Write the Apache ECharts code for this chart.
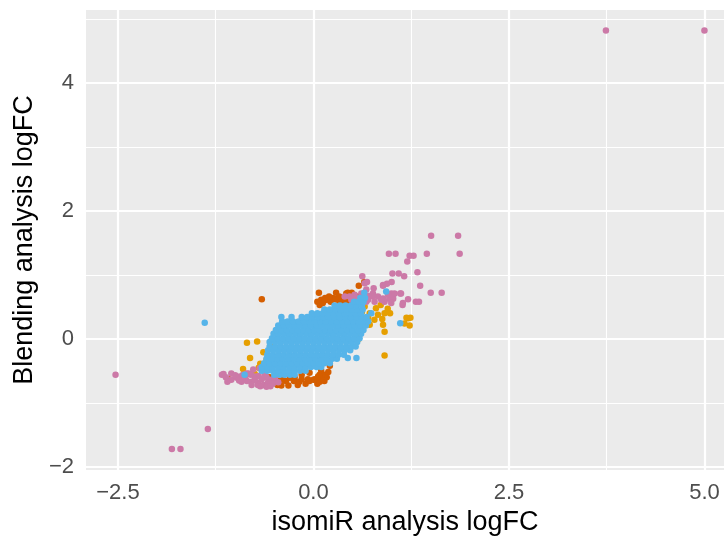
<!DOCTYPE html>
<html>
<head>
<meta charset="utf-8">
<script src="https://cdn.jsdelivr.net/npm/echarts@6/dist/echarts.min.js"></script>
<style>html,body{margin:0;padding:0;background:#fff}#c{width:724px;height:536px}</style>
</head>
<body>
<div id="c"></div>
<script>
const xTicks = [-2.5, 0, 2.5, 5];
const xMinor = [-1.25, 1.25, 3.75];
const yTicks = [-2, 0, 2, 4];
const yMinor = [-1, 1, 3, 5];

const redPoints = [
  [0.07,0.72],[0.29,0.72],[0.44,0.72],[0.49,0.72],[0.42,0.71],[0.58,0.83],[0.65,0.89],
  [0.10,0.61],[0.15,0.64],[0.19,0.61],[0.25,0.64],[0.31,0.61],[0.37,0.63],[0.44,0.61],
  [0.50,0.64],[0.55,0.66],[0.22,0.58],[0.34,0.58],[0.08,0.53],[0.12,0.56],
  [0.14,0.60],[0.28,0.62],[0.40,0.60],[0.47,0.58],[0.53,0.60],[0.20,0.66],[0.33,0.66],[0.05,0.58],
  [-0.66,0.62],[-1.08,-0.63],[0.21,-0.42],
  [-0.41,-0.73],[-0.32,-0.73],[-0.46,-0.72],[-0.20,-0.72],[-0.10,-0.70],[0.05,-0.70],
  [-0.55,-0.67],[-0.45,-0.66],[-0.35,-0.66],[-0.25,-0.66],[-0.18,-0.67],[-0.05,-0.66],
  [0.00,-0.64],[0.08,-0.67],[0.14,-0.66],[0.12,-0.62],[-0.56,-0.60],
  [-0.51,-0.64],[-0.39,-0.64],[-0.30,-0.61],[-0.24,-0.61],[-0.15,-0.63],[-0.07,-0.63],
  [0.02,-0.63],[0.17,-0.60],
  [-0.15,-0.56],[-0.05,-0.53],[0.06,-0.59],[0.145,-0.56],[0.08,-0.56],[-0.28,-0.55],
  [0.10,-0.50],[0.19,-0.52]
];

const orangePoints = [
  [-0.85,-0.06],[-0.72,-0.04],[-0.81,-0.30],[-0.90,-0.47],[-0.64,-0.21],[-0.68,-0.39],
  [-0.60,-0.33],[-0.70,-0.45],[-0.54,-0.12],[-0.62,-0.50],[-0.75,-0.55],
  [0.655,0.505],[0.72,0.40],[0.825,0.375],[0.91,0.40],[1.21,0.32],[1.165,0.24],
  [0.89,0.22],[0.72,0.22],[0.91,0.11],[0.91,-0.26],[0.61,0.19],[0.57,0.09],
  [1.19,0.33],[1.24,0.33],[1.23,0.21],[0.80,0.48],[0.86,0.53],[0.95,0.47],
  [0.78,0.30],[0.88,0.31],[0.70,0.33],[0.62,0.42],[0.98,0.40],[0.58,0.00]
];

const pinkPoints = [
  [5.0,4.82],[3.74,4.82],[-2.53,-0.56],[-1.81,-1.72],[-1.70,-1.72],[-1.35,-1.41],
  [1.505,1.61],[1.85,1.61],[1.87,1.33],[1.45,1.33],[0.965,1.33],[1.05,1.33],
  [1.23,1.30],[1.28,1.30],[1.20,1.21],[1.33,1.04],[1.01,1.02],[1.09,1.02],
  [1.16,0.98],[1.00,0.89],[1.365,0.83],[1.50,0.72],[1.64,0.72],[0.625,0.98],
  [0.685,0.89],[0.89,0.83],[0.94,0.86],[0.77,0.79],[0.655,0.87],[0.89,0.84],
  [1.11,0.71],[1.21,0.62],[1.31,0.58],[1.35,0.58],[1.14,0.53],[0.995,0.71],
  [1.02,0.625],[0.97,0.625],
  [0.463,0.66],[0.527,0.69],[0.612,0.71],[0.698,0.675],[0.761,0.71],[0.825,0.66],
  [0.889,0.63],[0.953,0.69],[1.017,0.66],[0.485,0.61],[0.59,0.59],[0.676,0.58],
  [0.782,0.58],[0.91,0.58],[0.995,0.56],[0.676,0.77],[0.761,0.66],[1.037,0.71],
  [1.12,0.71],[0.698,0.61],[0.867,0.61],[1.144,0.56],[0.40,0.66],[0.55,0.64],
  [-1.15,-0.55],[-1.05,-0.54],[-0.94,-0.59],[-0.855,-0.54],[-0.75,-0.59],[-0.62,-0.56],
  [-0.79,-0.67],[-0.705,-0.69],[-0.64,-0.72],[-0.557,-0.64],[-0.49,-0.64],[-0.92,-0.67],
  [-1.05,-0.64],[-1.17,-0.56],[-0.98,-0.61],[-0.79,-0.72],[-0.71,-0.72],[-0.83,-0.54],
  [-0.77,-0.48],[-0.685,-0.46],[-0.60,-0.60],[-0.87,-0.62],[-0.52,-0.70],[-0.45,-0.68],
  [-0.58,-0.68],
  [-1.12,-0.60],[-1.00,-0.57],[-0.90,-0.56],[-0.80,-0.56],[-0.70,-0.58],[-0.66,-0.63],
  [-0.75,-0.64],[-0.85,-0.66],[-0.95,-0.65],[-1.10,-0.67],[-0.68,-0.74],[-0.60,-0.75],
  [-0.55,-0.74],[-0.50,-0.60],[-0.46,-0.56]
];

const bluePoints = [
  [-1.39,0.25],[0.93,0.74],[1.11,0.245],
  [-0.88,-0.56],[-0.50,-0.56],[-0.43,-0.56],[-0.37,-0.56],[-0.30,-0.56],[-0.24,-0.56],
  [-0.66,-0.50],[-0.59,-0.50],[-0.52,-0.50],[-0.45,-0.50],[-0.38,-0.50],[-0.31,-0.50],[-0.24,-0.50],[-0.17,-0.50],[-0.10,-0.50],
  [-0.66,-0.44],[-0.59,-0.44],[-0.52,-0.44],[-0.45,-0.44],[-0.38,-0.44],[-0.31,-0.44],[-0.24,-0.44],[-0.17,-0.44],[-0.10,-0.44],[-0.03,-0.44],[0.04,-0.44],[0.10,-0.44],
  [-0.63,-0.38],[-0.56,-0.38],[-0.49,-0.38],[-0.42,-0.38],[-0.35,-0.38],[-0.28,-0.38],[-0.21,-0.38],[-0.14,-0.38],[-0.07,-0.38],[0.00,-0.38],[0.07,-0.38],[0.14,-0.38],[0.21,-0.38],
  [-0.60,-0.31],[-0.53,-0.31],[-0.46,-0.31],[-0.39,-0.31],[-0.32,-0.31],[-0.25,-0.31],[-0.18,-0.31],[-0.11,-0.31],[-0.04,-0.31],[0.03,-0.31],[0.10,-0.31],[0.17,-0.31],[0.24,-0.31],[0.30,-0.31],[0.44,-0.30],[0.55,-0.30],
  [-0.59,-0.25],[-0.52,-0.25],[-0.45,-0.25],[-0.38,-0.25],[-0.31,-0.25],[-0.24,-0.25],[-0.17,-0.25],[-0.10,-0.25],[-0.03,-0.25],[0.04,-0.25],[0.11,-0.25],[0.18,-0.25],[0.25,-0.25],[0.32,-0.25],[0.39,-0.25],
  [-0.58,-0.18],[-0.51,-0.18],[-0.44,-0.18],[-0.37,-0.18],[-0.30,-0.18],[-0.23,-0.18],[-0.16,-0.18],[-0.09,-0.18],[-0.02,-0.18],[0.05,-0.18],[0.12,-0.18],[0.19,-0.18],[0.26,-0.18],[0.33,-0.18],[0.40,-0.18],[0.47,-0.18],
  [-0.56,-0.12],[-0.49,-0.12],[-0.42,-0.12],[-0.35,-0.12],[-0.28,-0.12],[-0.21,-0.12],[-0.14,-0.12],[-0.07,-0.12],[0.00,-0.12],[0.07,-0.12],[0.14,-0.12],[0.21,-0.12],[0.28,-0.12],[0.35,-0.12],[0.42,-0.12],[0.49,-0.12],[0.54,-0.12],
  [-0.56,-0.05],[-0.49,-0.05],[-0.42,-0.05],[-0.35,-0.05],[-0.28,-0.05],[-0.21,-0.05],[-0.14,-0.05],[-0.07,-0.05],[0.00,-0.05],[0.07,-0.05],[0.14,-0.05],[0.21,-0.05],[0.28,-0.05],[0.35,-0.05],[0.42,-0.05],[0.49,-0.05],[0.56,-0.05],
  [-0.53,0.01],[-0.46,0.01],[-0.39,0.01],[-0.32,0.01],[-0.25,0.01],[-0.18,0.01],[-0.11,0.01],[-0.04,0.01],[0.03,0.01],[0.10,0.01],[0.17,0.01],[0.24,0.01],[0.31,0.01],[0.38,0.01],[0.45,0.01],[0.52,0.01],[0.59,0.01],
  [-0.51,0.08],[-0.44,0.08],[-0.37,0.08],[-0.30,0.08],[-0.23,0.08],[-0.16,0.08],[-0.09,0.08],[-0.02,0.08],[0.05,0.08],[0.12,0.08],[0.19,0.08],[0.26,0.08],[0.33,0.08],[0.40,0.08],[0.47,0.08],[0.54,0.08],[0.61,0.08],
  [-0.48,0.14],[-0.41,0.14],[-0.34,0.14],[-0.27,0.14],[-0.20,0.14],[-0.13,0.14],[-0.06,0.14],[0.01,0.14],[0.08,0.14],[0.15,0.14],[0.22,0.14],[0.29,0.14],[0.36,0.14],[0.43,0.14],[0.50,0.14],[0.57,0.14],[0.64,0.14],
  [-0.45,0.21],[-0.38,0.21],[-0.31,0.21],[-0.24,0.21],[-0.17,0.21],[-0.10,0.21],[-0.03,0.21],[0.04,0.21],[0.11,0.21],[0.18,0.21],[0.25,0.21],[0.32,0.21],[0.39,0.21],[0.46,0.21],[0.53,0.21],[0.60,0.21],[0.67,0.21],
  [-0.40,0.27],[-0.33,0.27],[-0.26,0.27],[-0.19,0.27],[-0.12,0.27],[-0.05,0.27],[0.02,0.27],[0.09,0.27],[0.16,0.27],[0.23,0.27],[0.30,0.27],[0.37,0.27],[0.44,0.27],[0.51,0.27],[0.58,0.27],[0.65,0.27],[0.70,0.27],
  [-0.41,0.34],[-0.28,0.34],[-0.15,0.34],[-0.08,0.34],[-0.01,0.34],[0.06,0.34],[0.13,0.34],[0.20,0.34],[0.27,0.34],[0.34,0.34],[0.41,0.34],[0.48,0.34],[0.55,0.34],[0.62,0.34],[0.68,0.34],
  [-0.02,0.40],[0.05,0.40],[0.12,0.40],[0.19,0.40],[0.26,0.40],[0.33,0.40],[0.40,0.40],[0.47,0.40],[0.54,0.40],[0.61,0.40],[0.74,0.40],
  [0.14,0.46],[0.21,0.46],[0.28,0.46],[0.35,0.46],[0.42,0.46],[0.49,0.46],[0.56,0.46],[0.63,0.46],
  [0.27,0.52],[0.34,0.52],[0.41,0.52],[0.48,0.52],[0.55,0.52],[0.62,0.52],
  [0.52,0.58],[0.58,0.58],[0.64,0.58],
  [0.60,0.64],[0.66,0.64],
  [0.65,0.72]
];

const FONT = "'Liberation Sans', Arial, Helvetica, sans-serif";
const fmtX = v => (v < 0 ? '\u2212' : '') + Math.abs(v).toFixed(1);
const fmtY = v => (v < 0 ? '\u2212' : '') + Math.abs(Math.round(v));

function gridLines() {
  const d = [];
  xTicks.forEach(v => d.push({ xAxis: v, lineStyle: { width: 2.2 } }));
  xMinor.forEach(v => d.push({ xAxis: v, lineStyle: { width: 1.1 } }));
  yTicks.forEach(v => d.push({ yAxis: v, lineStyle: { width: 2.2 } }));
  yMinor.forEach(v => d.push({ yAxis: v, lineStyle: { width: 1.1 } }));
  return d;
}

const chart = echarts.init(document.getElementById('c'), null, { renderer: 'canvas' });
const pt = (name, color, data, z) => ({
  name, type: 'scatter', data, symbol: 'circle', symbolSize: 6.5, z,
  itemStyle: { color, opacity: 1 }, silent: true
});

chart.setOption({
  animation: false,
  textStyle: { fontFamily: FONT },
  grid: {
    left: 86, right: 0, top: 10, bottom: 66,
    outerBoundsMode: 'none', containLabel: false,
    show: true, backgroundColor: '#EBEBEB', borderWidth: 0
  },
  xAxis: {
    type: 'value', min: -2.908, max: 5.25,
    axisLine: { show: false },
    splitLine: { show: false },
    axisTick: { show: true, customValues: xTicks, length: 7, lineStyle: { color: '#333333', width: 2 } },
    axisLabel: { customValues: xTicks, formatter: fmtX, color: '#4D4D4D', fontSize: 22, margin: 12, fontFamily: FONT },
    name: 'isomiR analysis logFC', nameLocation: 'middle', nameGap: 38,
    nameTextStyle: { color: '#000000', fontSize: 27, fontFamily: FONT }
  },
  yAxis: {
    type: 'value', min: -2.05, max: 5.14,
    axisLine: { show: false },
    splitLine: { show: false },
    axisTick: { show: true, customValues: yTicks, length: 7, lineStyle: { color: '#333333', width: 2 } },
    axisLabel: { customValues: yTicks, formatter: fmtY, color: '#4D4D4D', fontSize: 22, margin: 12, fontFamily: FONT },
    name: 'Blending analysis logFC', nameLocation: 'middle', nameGap: 46, nameRotate: 90,
    nameTextStyle: { color: '#000000', fontSize: 27, fontFamily: FONT }
  },
  series: [
    {
      name: 'grid', type: 'scatter', data: [], silent: true, z: 1,
      markLine: {
        silent: true, symbol: 'none', z: 1, animation: false,
        label: { show: false },
        lineStyle: { color: '#FFFFFF', type: 'solid', opacity: 1 },
        emphasis: { disabled: true },
        data: gridLines()
      }
    },
    pt('red', '#D55E00', redPoints, 2),
    pt('orange', '#E69F00', orangePoints, 3),
    pt('pink', '#CC79A7', pinkPoints, 4),
    pt('blue', '#56B4E9', bluePoints, 5)
  ]
});
</script>
</body>
</html>
